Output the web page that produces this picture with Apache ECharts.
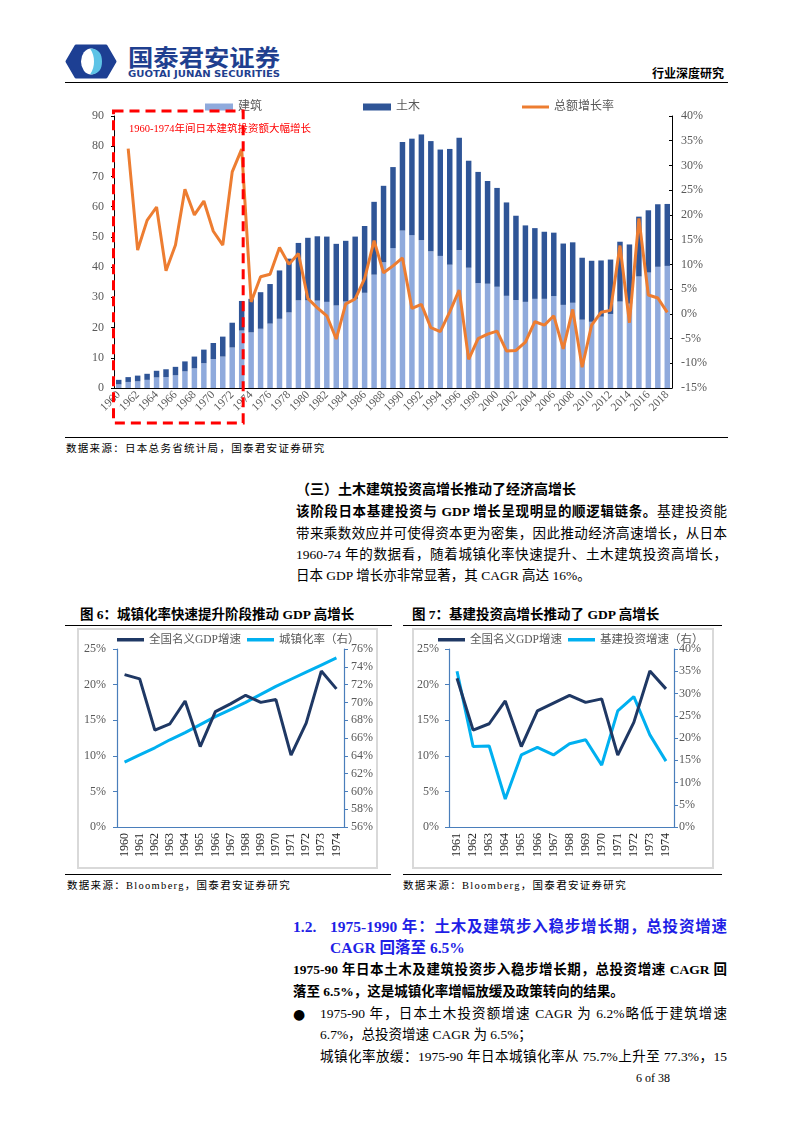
<!DOCTYPE html>
<html><head><meta charset="utf-8">
<script src="https://cdn.jsdelivr.net/npm/echarts/dist/echarts.min.js"></script>
<style>
html,body{margin:0;padding:0;background:#fff;}
body{width:793px;height:1122px;position:relative;overflow:hidden;font-family:'Liberation Serif','Noto Sans CJK SC',serif;color:#000;}
.a{position:absolute;white-space:nowrap;}
.hl{position:absolute;background:#000;height:1px;}
.t{font-size:13.5px;line-height:20px;height:20px;}
.j{text-align:justify;text-align-last:justify;}
.src{font-size:10.5px;letter-spacing:1.3px;line-height:14px;}
.ft{font-size:13.5px;font-weight:700;line-height:18px;}
.frame{position:absolute;border:2px solid #d9d9d9;box-sizing:border-box;}
.blue{color:#1f1fe6;font-weight:700;font-size:15.5px;line-height:22px;}
</style></head>
<body>
<!-- header -->
<svg class="a" style="left:60px;top:40px" width="250" height="42">
  <path d="M16,6 H46 L55,21.5 L46,37 H16 L7,21.5 Z" fill="#1d3f93" stroke="#1d3f93" stroke-width="3" stroke-linejoin="round"/>
  <ellipse cx="31" cy="21.5" rx="10" ry="13" fill="#ffffff"/>
  <path d="M30,8.5 C39,8.5 42,14 42,21.5 C42,29 39,34.5 30,34.5 C33,30 34,26 34,21.5 C34,17 33,13 30,8.5 Z" fill="#5ec3e6"/>
  <text x="68" y="26" font-size="23" font-weight="700" fill="#1f3f8f" font-family="Noto Sans CJK SC" textLength="152" lengthAdjust="spacingAndGlyphs">国泰君安证券</text>
  <text x="68" y="37" font-size="8.6" font-weight="700" fill="#1f3f8f" font-family="DejaVu Sans" textLength="152" lengthAdjust="spacingAndGlyphs">GUOTAI JUNAN SECURITIES</text>
</svg>
<div class="a" style="left:652px;top:65px;font-size:12px;font-weight:700;line-height:16px;font-family:'Noto Sans CJK SC'">行业深度研究</div>
<div class="hl" style="left:65px;top:81.5px;width:663px;height:1.6px"></div>

<!-- main chart -->
<div id="main" class="a" style="left:60px;top:90px;width:680px;height:345px"></div>
<div class="hl" style="left:65px;top:437px;width:663px"></div>
<div class="a src" style="left:66px;top:442px">数据来源：日本总务省统计局，国泰君安证券研究</div>

<!-- paragraph -->
<div class="a t" style="left:296px;top:480px;font-weight:700;font-size:14px">（三）土木建筑投资高增长推动了经济高增长</div>
<div class="a t j" style="left:296px;top:502px;width:431px"><b>该阶段日本基建投资与 GDP 增长呈现明显的顺逻辑链条。</b>基建投资能</div>
<div class="a t j" style="left:296px;top:524px;width:431px">带来乘数效应并可使得资本更为密集，因此推动经济高速增长，从日本</div>
<div class="a t j" style="left:296px;top:545px;width:431px">1960-74 年的数据看，随着城镇化率快速提升、土木建筑投资高增长，</div>
<div class="a t" style="left:296px;top:566px">日本 GDP 增长亦非常显著，其 CAGR 高达 16%。</div>

<!-- fig 6 -->
<div class="a ft" style="left:80px;top:606px">图 6：城镇化率快速提升阶段推动 GDP 高增长</div>
<div class="hl" style="left:65px;top:625px;width:327px"></div>
<div class="frame" style="left:77px;top:628px;width:301px;height:241px"></div>
<div id="fig6" class="a" style="left:77px;top:628px;width:301px;height:241px"></div>
<div class="hl" style="left:65px;top:874px;width:326px"></div>
<div class="a src" style="left:67px;top:879px">数据来源：Bloomberg，国泰君安证券研究</div>

<!-- fig 7 -->
<div class="a ft" style="left:412px;top:606px">图 7：基建投资高增长推动了 GDP 高增长</div>
<div class="hl" style="left:403px;top:625px;width:319px"></div>
<div class="frame" style="left:412px;top:628px;width:302px;height:241px"></div>
<div id="fig7" class="a" style="left:412px;top:628px;width:302px;height:241px"></div>
<div class="hl" style="left:403px;top:874px;width:319px"></div>
<div class="a src" style="left:403px;top:879px">数据来源：Bloomberg，国泰君安证券研究</div>

<!-- section 1.2 -->
<div class="a blue" style="left:293px;top:916px">1.2.</div>
<div class="a blue j" style="left:330px;top:916px;width:397px">1975-1990 年：土木及建筑步入稳步增长期，总投资增速</div>
<div class="a blue" style="left:330px;top:937px">CAGR 回落至 6.5%</div>
<div class="a t j" style="left:293px;top:960px;width:434px;font-weight:700">1975-90 年日本土木及建筑投资步入稳步增长期，总投资增速 CAGR 回</div>
<div class="a t" style="left:293px;top:982px;font-weight:700">落至 6.5%，这是城镇化率增幅放缓及政策转向的结果。</div>
<div class="a t" style="left:293px;top:1004px;font-size:14px;font-family:'DejaVu Sans'">●</div>
<div class="a t j" style="left:320px;top:1004px;width:407px">1975-90 年，日本土木投资额增速 CAGR 为 6.2%略低于建筑增速</div>
<div class="a t" style="left:320px;top:1025px">6.7%，总投资增速 CAGR 为 6.5%；</div>
<div class="a t j" style="left:320px;top:1047px;width:407px">城镇化率放缓：1975-90 年日本城镇化率从 75.7%上升至 77.3%，15</div>
<div class="a" style="left:636px;top:1070px;font-size:12px;line-height:16px">6 of 38</div>

<script>
// ===== main chart data =====
const years = ['1960','1961','1962','1963','1964','1965','1966','1967','1968','1969',
  '1970','1971','1972','1973','1974','1975','1976','1977','1978','1979',
  '1980','1981','1982','1983','1984','1985','1986','1987','1988','1989',
  '1990','1991','1992','1993','1994','1995','1996','1997','1998','1999',
  '2000','2001','2002','2003','2004','2005','2006','2007','2008','2009',
  '2010','2011','2012','2013','2014','2015','2016','2017','2018'];
// 建筑 (building)
const jianzhu = [1.2,2.0,2.2,2.7,3.5,3.6,4.2,5.5,6.5,8.2,
  9.6,10.4,13.4,19.0,18.4,19.6,21.3,22.9,25.0,29.0,
  29.0,28.9,28.5,27.3,28.6,29.5,31.5,37.5,41.6,46.3,
  52.1,50.6,48.9,45.2,43.7,40.8,45.6,39.8,34.7,34.5,
  33.5,30.5,29.1,28.5,29.5,29.5,30.4,27.5,28.2,22.6,
  21.9,23.6,24.5,28.6,27.9,36.9,38.2,40.1,40.4];
// 土木 (civil engineering)
const tumu = [1.5,1.6,1.9,2.0,2.2,2.6,2.8,3.3,3.9,4.5,
  5.3,6.6,8.2,9.8,11.1,12.1,13.1,16.0,17.8,19.0,
  20.7,21.3,21.6,20.4,20.1,20.6,22.1,24.1,25.3,26.8,
  29.3,31.9,35.0,36.5,35.2,38.3,37.2,35.4,36.8,34.0,
  32.7,30.9,27.9,25.3,23.4,22.2,21.0,20.3,20.0,20.5,
  20.2,18.6,18.0,19.8,19.6,19.8,20.6,20.7,20.5];
// 总额增长率 (%)
const growth = [null,33.4,12.9,18.9,21.6,8.7,13.9,25.2,20.0,22.8,
  16.7,13.9,28.7,33.3,2.4,7.5,8.0,13.4,10.0,12.2,
  3.1,1.2,-0.4,-5.1,2.0,3.0,7.1,14.8,8.3,9.7,
  11.3,1.1,1.9,-2.8,-3.6,0.4,4.8,-9.2,-5.0,-4.1,
  -3.5,-7.5,-7.4,-5.7,-1.6,-2.3,-0.4,-7.1,0.9,-10.8,
  -2.3,0.3,0.7,13.8,-1.8,19.3,3.8,3.2,0.3];
const mainLeftAxis = [0, 90, 10];
const mainRightAxis = [-15, 40, 5];

// ===== fig 6 data =====
const fig6Years = ['1960','1961','1962','1963','1964','1965','1966','1967','1968','1969','1970','1971','1972','1973','1974'];
const gdp6 = [21.4,20.8,13.6,14.5,17.7,11.3,16.2,17.3,18.5,17.5,17.9,10.1,14.6,21.9,19.4];
const urban6 = [63.3,64.1,64.9,65.8,66.6,67.5,68.4,69.2,70.0,70.9,71.8,72.6,73.4,74.2,75.0];
const fig6Left = [0, 25, 5];
const fig6Right = [56, 76, 2];

// ===== fig 7 data =====
const fig7Years = ['1961','1962','1963','1964','1965','1966','1967','1968','1969','1970','1971','1972','1973','1974'];
const gdp7 = [20.9,13.6,14.5,17.7,11.3,16.3,17.4,18.5,17.5,18.0,10.1,14.7,21.9,19.4];
const infra7 = [35.0,18.1,18.2,6.3,16.2,17.9,16.2,18.7,19.6,13.9,26.1,29.3,20.7,14.8];
const fig7Left = [0, 25, 5];
const fig7Right = [0, 40, 5];

const FF = "'Liberation Serif','Noto Sans CJK SC',serif";
const GREY = '#595959';

// ===== main chart =====
const main = echarts.init(document.getElementById('main'), null, {renderer:'canvas'});
main.setOption({
  animation:false,
  textStyle:{fontFamily:FF},
  legend:[
    {left:140, top:6, itemGap:101, itemWidth:28, itemHeight:7, icon:'rect',
     textStyle:{fontSize:12, color:GREY, fontFamily:FF}, data:['建筑','土木']},
    {left:457, top:6, itemWidth:27, itemHeight:3, icon:'rect',
     textStyle:{fontSize:12, color:GREY, fontFamily:FF}, data:['总额增长率']}
  ],
  grid:{left:54, right:68, top:26, bottom:47},
  xAxis:{type:'category', data:years,
    axisLine:{lineStyle:{color:'#000', width:1}},
    axisTick:{length:3, lineStyle:{color:'#000'}},
    axisLabel:{interval:1, rotate:45, fontSize:11.5, color:GREY, margin:5, fontFamily:FF}},
  yAxis:[
    {type:'value', min:mainLeftAxis[0], max:mainLeftAxis[1], interval:mainLeftAxis[2],
     axisLine:{show:true, lineStyle:{color:'#000'}}, axisTick:{show:true, length:3, lineStyle:{color:'#000'}},
     splitLine:{show:false}, axisLabel:{fontSize:12, color:GREY, margin:10, fontFamily:FF}},
    {type:'value', min:mainRightAxis[0], max:mainRightAxis[1], interval:mainRightAxis[2], position:'right',
     axisLine:{show:true, lineStyle:{color:'#000'}}, axisTick:{show:true, inside:true, length:3, lineStyle:{color:'#000'}},
     splitLine:{show:false}, axisLabel:{formatter:'{value}%', fontSize:12, color:GREY, margin:9, fontFamily:FF}}
  ],
  series:[
    {name:'建筑', type:'bar', stack:'total', data:jianzhu, barWidth:'58%', itemStyle:{color:'#8FAADC'}},
    {name:'土木', type:'bar', stack:'total', data:tumu, barWidth:'58%', itemStyle:{color:'#2F5597'}},
    {name:'总额增长率', type:'line', yAxisIndex:1, data:growth, symbol:'none', z:5,
     lineStyle:{color:'#ED7D31', width:3}, itemStyle:{color:'#ED7D31'}}
  ]
});
const x73 = main.convertToPixel({xAxisIndex:0}, '1973');
main.setOption({graphic:[
  {type:'rect', silent:true, z:100, shape:{x:53.5, y:21, width:x73 + 1.5 - 53.5, height:312},
   style:{fill:'none', stroke:'#FF0000', lineWidth:3, lineDash:[10,6]}},
  {type:'text', silent:true, z:100, x:69, y:39,
   style:{text:'1960-1974年间日本建筑投资额大幅增长', fill:'#FF0000', fontSize:10.5, fontFamily:FF, verticalAlign:'middle'}}
]});

// ===== fig 6 / fig 7 =====
function dualLine(el, cats, s1, s2, n1, n2, c2, L, R, g, legLeft, lm, rm) {
  const ch = echarts.init(el, null, {renderer:'canvas'});
  const AX = '#4A7EBB';
  ch.setOption({
    animation:false,
    textStyle:{fontFamily:FF},
    legend:{left:legLeft, top:1, width:400, itemGap:6, itemWidth:27, itemHeight:3.5, icon:'rect',
      textStyle:{fontSize:11.5, color:GREY, fontFamily:FF}, data:[n1, n2]},
    grid:g,
    xAxis:{type:'category', data:cats,
      axisLine:{lineStyle:{color:AX, width:1.2}}, axisTick:{length:3, lineStyle:{color:AX}},
      axisLabel:{interval:0, rotate:90, fontSize:12, color:'#262626', margin:6, fontFamily:FF}},
    yAxis:[
      {type:'value', min:L[0], max:L[1], interval:L[2],
       axisLine:{show:true, lineStyle:{color:AX, width:1.2}}, axisTick:{show:true, length:4, lineStyle:{color:AX}},
       splitLine:{show:false}, axisLabel:{formatter:'{value}%', fontSize:12, color:GREY, margin:lm, fontFamily:FF}},
      {type:'value', min:R[0], max:R[1], interval:R[2], position:'right',
       axisLine:{show:true, lineStyle:{color:AX, width:1.2}}, axisTick:{show:true, length:4, lineStyle:{color:AX}},
       splitLine:{show:false}, axisLabel:{formatter:'{value}%', fontSize:12, color:GREY, margin:rm, fontFamily:FF}}
    ],
    series:[
      {name:n1, type:'line', data:s1, symbol:'none', lineStyle:{color:'#1F3864', width:3}, itemStyle:{color:'#1F3864'}, z:3},
      {name:n2, type:'line', yAxisIndex:1, data:s2, symbol:'none', lineStyle:{color:c2, width:3}, itemStyle:{color:c2}, z:2}
    ]
  });
  return ch;
}
dualLine(document.getElementById('fig6'), fig6Years, gdp6, urban6, '全国名义GDP增速', '城镇化率（右）', '#00B0F0',
  fig6Left, fig6Right, {left:40, right:34, top:21, bottom:42}, 35, 11, 7);
dualLine(document.getElementById('fig7'), fig7Years, gdp7, infra7, '全国名义GDP增速', '基建投资增速（右）', '#00B0F0',
  fig7Left, fig7Right, {left:37, right:40, top:21, bottom:42}, 21, 10, 5);
</script>
</body></html>
